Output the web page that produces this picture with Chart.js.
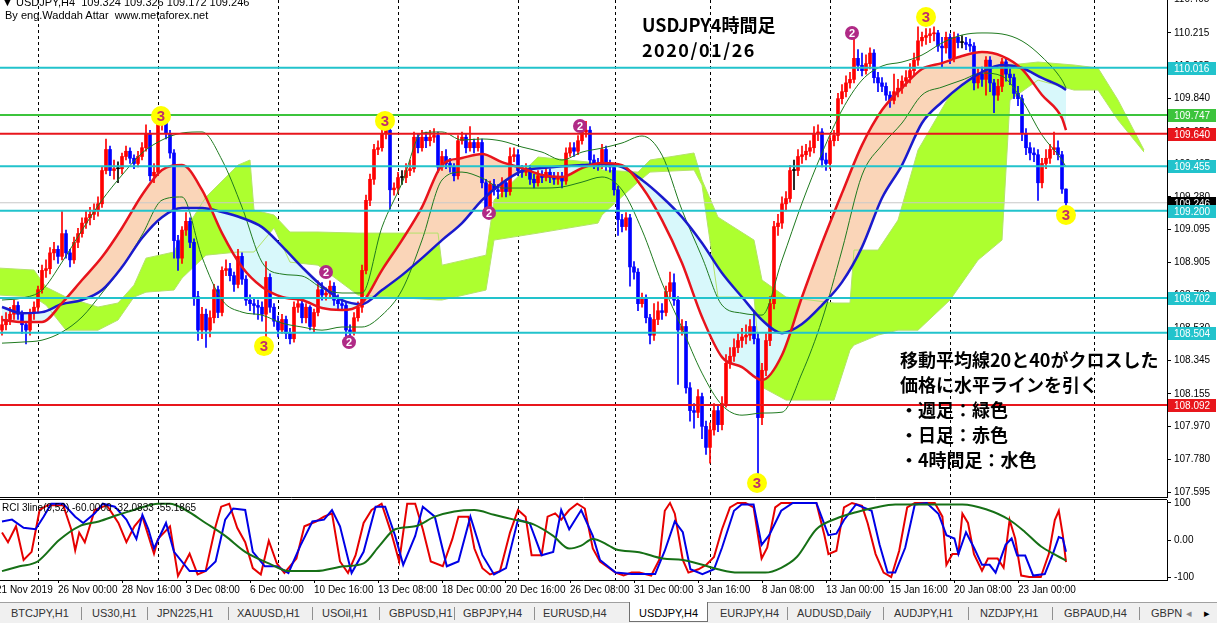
<!DOCTYPE html>
<html>
<head>
<meta charset="utf-8">
<script src="https://cdn.jsdelivr.net/npm/chart.js@4.4.1/dist/chart.umd.min.js"></script>
<style>
  body { margin: 0; width: 1217px; height: 623px; overflow: hidden; background: #fff; position: relative; font-family: "Liberation Sans", Arial, sans-serif; }
  #main { position: absolute; left: 0; top: 0; }
  #sub { position: absolute; left: 0; top: 498px; }
  .t { position: absolute; white-space: pre; color: #000; }
  .small { font-size: 11px; line-height: 12px; }
  .jp { font-family: "Noto Sans CJK JP", sans-serif; font-weight: bold; font-size: 18px; line-height: 25px; }
  #tabs { position: absolute; left: 0; top: 602px; width: 1217px; height: 21px; background: #f0f0f0; border-top: 1px solid #a0a0a0; font-size: 11px; color: #333; }
  #tabs span { position: absolute; top: 4px; }
  #tabs i { position: absolute; top: 4px; width: 1px; height: 13px; background: #909090; }
  #tabs .act { top: -1px; height: 19px; background: #fff; border: 1px solid #707070; border-top: none; }
</style>
</head>
<body>
<canvas id="main" width="1217" height="498"></canvas>
<canvas id="sub" width="1217" height="104"></canvas>

<div class="t small" style="left:2px;top:-4px">▼ USDJPY,H4  109.324 109.326 109.172 109.246</div>
<div class="t small" style="left:5px;top:9px">By eng.Waddah Attar  www.metaforex.net</div>
<div class="t jp" style="left:642px;top:12px">USDJPY4時間足</div>
<div class="t jp" style="left:642px;top:37px;letter-spacing:1.5px">2020/01/26</div>
<div class="t jp" style="left:900px;top:347px">移動平均線20と40がクロスした
価格に水平ラインを引く
・週足：緑色
・日足：赤色
・4時間足：水色</div>
<div class="t" style="left:2px;top:502px;font-size:10px;line-height:12px">RCI 3line(9,52) -60.0000 -32.0833 -55.1865</div>

<div id="tabs">
  <div class="act" style="position:absolute;left:629px;width:77px"></div>
  <span style="left:11px">BTCJPY,H1</span><i style="left:81px"></i>
  <span style="left:92px">US30,H1</span><i style="left:147px"></i>
  <span style="left:157px">JPN225,H1</span><i style="left:228px"></i>
  <span style="left:237px">XAUUSD,H1</span><i style="left:312px"></i>
  <span style="left:322px">USOil,H1</span><i style="left:379px"></i>
  <span style="left:389px">GBPUSD,H1</span><i style="left:454px"></i>
  <span style="left:463px">GBPJPY,H4</span><i style="left:534px"></i>
  <span style="left:543px">EURUSD,H4</span>
  <span style="left:639px;color:#000">USDJPY,H4</span>
  <span style="left:720px">EURJPY,H4</span><i style="left:787px"></i>
  <span style="left:797px">AUDUSD,Daily</span><i style="left:883px"></i>
  <span style="left:894px">AUDJPY,H1</span><i style="left:968px"></i>
  <span style="left:980px">NZDJPY,H1</span><i style="left:1052px"></i>
  <span style="left:1064px">GBPAUD,H4</span><i style="left:1139px"></i>
  <span style="left:1151px">GBPN</span>
  <span style="left:1186px;color:#888">◂</span>
  <span style="left:1204px;color:#000">▸</span>
</div>

<script>
// ---- candles (USDJPY H4, bar index 0 = 21 Nov 2019) ----
const firstOpen = 108.52;
const closes = [
  108.55,108.58,108.61,108.66,108.61,108.55,108.52,108.62,108.65,108.75,
  108.86,108.87,108.96,108.98,108.94,109.07,108.96,108.92,109.02,109.07,
  109.13,109.16,109.18,109.20,109.24,109.43,109.55,109.43,109.44,109.44,
  109.51,109.54,109.50,109.47,109.51,109.56,109.64,109.40,109.42,109.71,
  109.72,109.64,109.53,109.03,108.93,109.09,109.14,109.02,108.71,108.52,
  108.61,108.52,108.59,108.75,108.62,108.86,108.87,108.83,108.78,108.94,
  108.81,108.69,108.67,108.66,108.65,108.61,108.82,108.65,108.57,108.52,
  108.58,108.50,108.47,108.65,108.67,108.59,108.65,108.54,108.62,108.75,
  108.72,108.73,108.77,108.69,108.67,108.66,108.52,108.51,108.59,108.65,
  108.86,109.26,109.38,109.55,109.56,109.64,109.66,109.32,109.33,109.39,
  109.39,109.43,109.44,109.62,109.56,109.62,109.60,109.62,109.63,109.45,
  109.51,109.47,109.45,109.40,109.60,109.62,109.56,109.59,109.56,109.59,
  109.36,109.20,109.35,109.32,109.31,109.36,109.31,109.51,109.52,109.43,
  109.42,109.44,109.38,109.36,109.40,109.39,109.42,109.39,109.38,109.39,
  109.37,109.53,109.56,109.54,109.60,109.65,109.66,109.49,109.47,109.46,
  109.55,109.46,109.45,109.32,109.15,109.11,109.16,108.88,108.85,108.67,
  108.70,108.59,108.49,108.58,108.63,108.62,108.74,108.79,108.69,108.52,
  108.54,108.19,108.06,108.05,108.14,107.97,107.85,107.95,108.06,107.98,
  108.10,108.33,108.37,108.42,108.46,108.48,108.49,108.54,108.47,108.02,
  108.29,108.46,108.67,109.11,109.13,109.24,109.27,109.43,109.43,109.51,
  109.52,109.54,109.56,109.64,109.65,109.49,109.47,109.60,109.63,109.84,
  109.88,109.93,109.95,110.07,110.03,110.00,110.04,110.10,109.96,109.93,
  109.91,109.86,109.83,109.88,109.90,109.94,109.96,110.00,110.06,110.17,
  110.19,110.20,110.21,110.215,110.14,110.13,110.19,110.07,110.19,110.16,
  110.16,110.15,110.14,109.93,109.98,109.95,110.06,109.93,109.86,109.91,
  110.05,109.98,109.96,109.87,109.84,109.64,109.56,109.53,109.52,109.36,
  109.47,109.50,109.55,109.56,109.52,109.324,109.246
];
const highs = [
  108.60,108.62,108.65,108.69,108.68,108.63,108.57,108.64,108.68,108.77,
  108.89,108.92,108.99,109.02,109.00,109.20,109.09,108.98,109.05,109.10,
  109.16,109.20,109.22,109.24,109.28,109.45,109.61,109.57,109.49,109.48,
  109.53,109.57,109.56,109.52,109.54,109.59,109.69,109.66,109.47,109.76,
  109.76,109.74,109.66,109.55,109.06,109.11,109.19,109.16,109.04,108.74,
  108.65,108.64,108.63,108.78,108.77,108.88,108.92,108.90,108.85,108.98,
  108.96,108.83,108.72,108.70,108.69,108.68,108.91,108.84,108.67,108.60,
  108.61,108.60,108.53,108.68,108.70,108.69,108.67,108.66,108.64,108.80,
  108.79,108.76,108.80,108.79,108.72,108.70,108.68,108.55,108.62,108.68,
  108.89,109.29,109.41,109.58,109.60,109.67,109.72,109.68,109.36,109.42,
  109.43,109.47,109.49,109.65,109.64,109.66,109.65,109.66,109.67,109.65,
  109.54,109.55,109.50,109.47,109.63,109.65,109.64,109.68,109.61,109.62,
  109.61,109.38,109.37,109.38,109.35,109.39,109.38,109.56,109.56,109.55,
  109.46,109.47,109.46,109.41,109.43,109.43,109.45,109.44,109.42,109.42,
  109.42,109.56,109.59,109.59,109.63,109.70,109.71,109.68,109.52,109.50,
  109.58,109.57,109.49,109.47,109.34,109.18,109.19,109.18,108.91,108.87,
  108.73,108.72,108.61,108.67,108.68,108.67,108.77,108.85,108.84,108.71,
  108.58,108.57,108.22,108.10,108.18,108.16,108.00,107.99,108.10,108.09,
  108.14,108.38,108.42,108.47,108.50,108.53,108.55,108.58,108.63,108.50,
  108.33,108.50,108.71,109.14,109.18,109.28,109.31,109.46,109.49,109.55,
  109.57,109.58,109.60,109.68,109.69,109.67,109.53,109.63,109.66,109.87,
  109.92,109.97,109.99,110.18,110.12,110.10,110.09,110.13,110.12,109.99,
  109.96,109.93,109.88,109.98,109.95,109.97,110.00,110.04,110.10,110.25,
  110.22,110.24,110.24,110.25,110.23,110.19,110.22,110.21,110.22,110.21,
  110.20,110.19,110.18,110.16,110.01,110.02,110.08,110.08,109.95,109.95,
  110.07,110.07,110.01,109.98,109.91,109.86,109.67,109.59,109.56,109.55,
  109.50,109.55,109.58,109.65,109.60,109.54,109.326
];
const lows = [
  108.49,108.52,108.55,108.58,108.58,108.50,108.44,108.49,108.58,108.62,
  108.73,108.82,108.84,108.92,108.90,108.92,108.93,108.88,108.90,108.99,
  109.05,109.10,109.12,109.15,109.17,109.22,109.41,109.40,109.38,109.36,
  109.41,109.49,109.47,109.44,109.45,109.49,109.54,109.37,109.36,109.40,
  109.66,109.61,109.50,108.93,108.86,108.90,109.06,108.99,108.66,108.46,
  108.47,108.42,108.48,108.56,108.59,108.60,108.83,108.80,108.74,108.76,
  108.78,108.66,108.63,108.61,108.58,108.57,108.42,108.62,108.54,108.48,
  108.50,108.47,108.44,108.45,108.62,108.56,108.56,108.52,108.51,108.60,
  108.69,108.69,108.70,108.66,108.64,108.63,108.48,108.47,108.49,108.57,
  108.62,108.84,109.23,109.35,109.52,109.54,109.61,109.21,109.29,109.30,
  109.35,109.36,109.40,109.42,109.53,109.54,109.56,109.57,109.59,109.42,
  109.43,109.44,109.42,109.37,109.38,109.58,109.53,109.54,109.53,109.54,
  109.33,109.17,109.18,109.29,109.27,109.28,109.28,109.29,109.48,109.40,
  109.39,109.40,109.35,109.33,109.34,109.36,109.37,109.36,109.35,109.35,
  109.33,109.35,109.51,109.51,109.52,109.58,109.62,109.46,109.44,109.43,
  109.44,109.43,109.42,109.29,109.06,109.08,109.09,108.77,108.81,108.63,
  108.65,108.56,108.44,108.46,108.55,108.58,108.60,108.71,108.66,108.21,
  108.49,108.16,108.00,107.96,108.02,107.90,107.81,107.76,107.92,107.94,
  107.95,108.08,108.30,108.34,108.39,108.42,108.44,108.46,108.44,107.69,
  107.98,108.26,108.43,108.64,109.06,109.10,109.20,109.25,109.32,109.40,
  109.47,109.49,109.51,109.53,109.60,109.45,109.43,109.44,109.57,109.60,
  109.81,109.85,109.90,109.93,110.00,109.97,109.98,110.01,109.93,109.88,
  109.88,109.83,109.79,109.81,109.85,109.87,109.91,109.93,109.97,110.03,
  110.14,110.15,110.16,110.17,110.11,110.02,110.10,110.04,110.05,110.13,
  110.13,110.12,110.11,109.89,109.90,109.91,109.86,109.88,109.76,109.83,
  109.88,109.94,109.92,109.84,109.80,109.60,109.52,109.49,109.48,109.26,
  109.33,109.44,109.47,109.52,109.49,109.30,109.172
];

// ---- indicator lines, read at every 5th bar ----
const lineIdx = [0,5,10,15,20,25,30,35,40,45,50,55,60,65,70,75,80,85,90,95,100,105,110,115,120,125,130,135,140,145,150,155,160,165,170,175,180,185,190,195,200,205,210,215,220,225,230,235,240,245,250,255,260,265,266];
const ma20 = [108.577,108.565,108.565,108.674,108.805,108.936,109.102,109.290,109.433,109.461,109.319,109.073,108.879,108.765,108.708,108.691,108.645,108.634,108.674,108.862,109.033,109.221,109.461,109.501,109.524,109.478,109.444,109.404,109.393,109.444,109.473,109.461,109.336,109.147,108.902,108.594,108.365,108.308,108.234,108.377,108.708,109.016,109.301,109.575,109.775,109.901,110.009,110.043,110.083,110.106,110.083,110.009,109.861,109.729,109.661];
const ma40 = [108.651,108.616,108.622,108.668,108.691,108.748,108.879,109.045,109.164,109.216,109.216,109.193,109.159,109.107,108.999,108.879,108.771,108.691,108.668,108.748,108.833,108.930,109.033,109.130,109.261,109.358,109.427,109.444,109.455,109.461,109.467,109.450,109.376,109.279,109.164,109.016,108.845,108.708,108.577,108.502,108.554,108.662,108.793,108.993,109.273,109.461,109.701,109.821,109.918,109.992,110.032,110.015,109.958,109.906,109.889];
const bandUp = [108.691,108.702,108.748,108.907,109.090,109.261,109.404,109.530,109.604,109.644,109.650,109.490,109.221,108.907,108.839,108.828,108.759,108.731,108.731,109.107,109.358,109.644,109.650,109.604,109.610,109.598,109.564,109.535,109.490,109.535,109.558,109.587,109.627,109.518,109.204,108.936,108.662,108.616,108.605,108.919,109.244,109.530,109.775,109.946,110.026,110.049,110.089,110.158,110.203,110.215,110.209,110.169,110.078,109.946,109.901];
const bandLow = [108.445,108.451,108.462,108.508,108.594,108.731,108.879,109.062,109.261,109.279,108.936,108.691,108.622,108.605,108.559,108.537,108.519,108.537,108.537,108.605,108.748,109.033,109.376,109.421,109.387,109.330,109.330,109.330,109.336,109.364,109.393,109.319,109.090,108.788,108.531,108.274,108.091,108.034,108.046,108.051,108.274,108.577,108.976,109.404,109.575,109.701,109.861,109.906,109.946,109.986,109.969,109.832,109.632,109.490,109.450];

// ---- ichimoku cloud edges (shifted 26 bars ahead) ----
const cloudIdx = [-0.5,8,11,16,24,29,33,36,43,45,51,59,62,63,68,72,79,89,109,110,121,123,134,149,150,159,162,173,175,179,188,190,196,208,212,213,219,224,229,237,244,250,252,259,268,274,279,285.5];
const spanA = [108.873,108.862,108.765,108.708,108.651,108.674,108.776,108.930,108.965,109.062,109.279,109.461,109.490,109.204,109.176,109.079,109.079,109.073,109.073,108.890,108.947,109.261,109.507,109.473,109.433,109.421,109.490,109.530,109.376,109.164,109.033,108.805,108.708,108.674,108.674,108.976,108.976,109.147,109.547,109.861,109.975,110.032,110.032,110.049,110.032,110.015,109.832,109.547];
const spanB = [108.719,108.708,108.662,108.519,108.519,108.577,108.708,108.736,108.748,108.816,108.947,108.965,108.965,108.965,109.102,108.907,108.890,108.719,108.691,108.691,108.748,109.033,109.073,109.130,109.176,109.364,109.421,109.433,109.347,108.708,108.708,108.194,108.120,108.120,108.405,108.434,108.491,108.519,108.519,108.691,108.919,109.033,109.832,109.946,109.889,109.889,109.718,109.535];

// ---- horizontal levels and wave marks ----
const levelsCyan = [110.016, 109.455, 109.200, 108.702, 108.504];
const levelsGreen = [109.747];
const levelsRed = [109.640, 108.092];
const lastPrice = 109.246;
const priceTicks = [110.405,110.215,110.025,109.840,109.650,109.465,109.280,109.095,108.905,108.720,108.530,108.345,108.155,107.970,107.780,107.595];
const mark3 = [[39.75,109.741],[95.75,109.713],[65.5,108.428],[231,110.306],[266,109.176],[188.75,107.647]];
const mark2 = [[81,108.851],[86.75,108.451],[121.75,109.188],[144.5,109.684],[212.5,110.215]];

// ---- RCI (9 / 26 / 52) sub window ----
const rci9X = [0,1.5,3.5,5.4,7.4,9.4,11.4,15.3,17.3,18.3,19.3,20.7,23.2,26.2,29.1,31.1,33.1,35.1,38,39,42,44,46.9,48.9,50.9,53.4,54.8,56.8,58.8,60.8,62.7,64.7,66.7,68.7,70.6,73.6,75.6,78.5,80.5,82.5,84.5,86.5,88.4,90.4,92.4,94.9,97.3,99.3,101.3,103.3,105.2,107.2,110.2,112.6,114.1,116.6,118.1,120.1,122,124.5,127,129,130.9,132.4,134.9,136.4,138.3,139.8,141.8,143.8,145.7,147.7,149.5,153.4,155.4,157.4,159.3,162.3,164.3,165.7,167,168.2,170.2,171.6,174.1,176.1,178,180,182,183.9,185.9,187.9,189.9,191.3,193.3,194.8,203.6,205.6,206.6,208.6,210.5,212.5,215,216.4,218.4,220.4,222.3,224.3,226.3,228.2,233.2,235.1,236.1,237.6,239.1,240.1,241.5,243,245,246.5,248.9,250.4,251.9,253.3,254.8,256.8,259.7,261.7,263.2,264.2,265.2,266];
const rci9 = [20,-6,37,-54,-32,81,94,94,29,-28,20,-6,81,94,46,-6,37,63,-37,3,37,-97,-37,-93,-84,37,90,98,33,-6,-76,-93,-2,-63,-89,-50,37,50,63,72,-58,-89,-41,46,81,98,20,-58,98,98,29,-58,-71,3,63,63,-23,-76,-93,-84,20,81,63,-41,-41,63,72,55,81,98,85,-23,-58,-88,-96,-88,-88,-96,-54,79,100,71,-54,-88,-79,-67,-46,29,88,100,100,88,-50,-21,88,100,100,13,-38,-29,88,100,92,46,-38,-88,-100,-29,88,100,100,63,-67,-38,-38,71,46,-38,-83,-50,-50,-75,54,4,-96,-100,-100,-38,54,79,13,-60];
const rci26X = [0,2.5,5.4,8.4,10.4,12.3,15.3,18.3,20.3,23.2,25.2,28.2,31.1,33.6,35.1,36.6,38,41,43,46.9,50.9,53.4,55.8,57.8,60.8,62.7,65.7,68.7,71.6,74.6,77.6,80.5,82.5,84.5,87.4,90.4,93.4,95.8,98.3,100.3,103.3,105.2,108.2,111.2,114.1,117.1,120.1,123,126,129,131.9,134.9,137.8,139.8,141.8,144.8,147.7,149.5,153.4,157.4,163.3,165.7,168.2,170.2,172.1,175.1,178,180,183,184.9,187.9,189.9,191.8,194.8,197.7,203.6,206.6,208.6,210.5,213.5,217.4,219.4,221.4,223.3,225.8,228.2,231.2,234.1,236.1,238.1,239.1,241,243,245,246.9,248.4,250.9,252.4,253.8,255.8,257.8,260.7,262.7,264.2,265.2,266];
const rci26 = [50,55,33,29,63,98,98,63,46,72,98,90,55,3,68,29,-23,46,-32,-84,-84,-58,55,85,81,-32,-71,-71,-89,-15,50,55,81,37,-89,-32,90,90,11,-67,11,90,63,-71,-58,63,-41,-93,-76,55,46,-41,-32,81,29,81,11,-54,-88,-92,-92,-29,50,21,-79,-92,-79,-21,79,96,96,-13,13,79,100,100,13,17,54,96,79,-13,-88,-88,-21,96,100,71,13,4,-38,21,-21,-67,-67,-88,-13,4,-42,-42,-96,-92,-38,8,4,-32];
const rci52X = [0,4.4,8.9,14.3,19.3,24.2,29.1,34.1,39,42,45.9,50.9,55.8,60.8,66.7,71.6,78.5,85.5,90.4,94.4,98.3,103.3,108.2,113.1,118.1,123,128,132.9,137.8,141.8,144.8,147.7,151.7,153.4,159.3,165.2,170.2,175.1,179,184,190.8,194.8,198.7,203.6,208.6,213.5,218.4,223.3,233.2,240.1,246,251.9,255.8,259.7,263.7,266];
const rci52 = [-84,-71,-58,0,37,50,68,85,98,98,81,46,11,-32,-63,-84,-84,-71,-63,-15,29,37,63,77,81,68,55,42,11,-23,-15,3,-15,-25,-33,-50,-54,-67,-79,-88,-88,-75,-46,29,58,75,88,96,96,96,83,54,21,-17,-42,-55];

// ---- time axis ----
const gridIdx = [9,39,69,99,129,153.25,177,207,237,273];
const timeIdx = [-1.5,14,30,46,62,78,94,110,126,142,158,174,190,206,222,238,254];
const timeLabels = ['21 Nov 2019','26 Nov 00:00','28 Nov 16:00','3 Dec 08:00','6 Dec 00:00','10 Dec 16:00','13 Dec 08:00','18 Dec 00:00','20 Dec 16:00','26 Dec 08:00','31 Dec 00:00','3 Jan 16:00','8 Jan 08:00','13 Jan 00:00','15 Jan 16:00','20 Jan 08:00','23 Jan 00:00'];

const X_MIN = -0.5, X_MAX = 291.25;
const UP = '#ff0000', DOWN = '#0000ff';
const opens = closes.map((c, i) => i === 0 ? firstOpen : closes[i - 1]);
opens[opens.length - 1] = 109.324;
const candleColor = closes.map((c, i) => c > opens[i] ? UP : (c < opens[i] ? DOWN : '#000'));

const pts = (xs, ys) => xs.map((x, i) => ({x: x, y: ys[i]}));
const hline = (v, color, w) => ({type: 'line', data: [{x: X_MIN, y: v}, {x: X_MAX, y: v}], borderColor: color, borderWidth: w, pointRadius: 0, order: 1});

const framePlugin = {
  id: 'frame',
  afterDraw(chart) {
    const {ctx, chartArea: a} = chart;
    ctx.save();
    ctx.strokeStyle = '#000';
    ctx.lineWidth = 1;
    ctx.beginPath();
    ctx.moveTo(a.left, Math.round(a.bottom) + 0.5); ctx.lineTo(a.right, Math.round(a.bottom) + 0.5);
    if (chart.canvas.id === 'sub') { ctx.moveTo(a.left, Math.round(a.top) - 0.5); ctx.lineTo(a.right, Math.round(a.top) - 0.5); }
    ctx.stroke();
    ctx.restore();
  }
};

const markPlugin = {
  id: 'marks',
  afterDatasetsDraw(chart) {
    const ctx = chart.ctx;
    chart.data.datasets.forEach((ds, di) => {
      if (!ds.digit) return;
      chart.getDatasetMeta(di).data.forEach(p => {
        ctx.save();
        ctx.font = 'bold ' + ds.digitSize + 'px "Liberation Sans"';
        ctx.fillStyle = ds.digitColor;
        ctx.textAlign = 'center';
        ctx.textBaseline = 'middle';
        ctx.fillText(ds.digit, p.x, p.y + 1);
        ctx.restore();
      });
    });
  }
};

const boxPlugin = {
  id: 'boxes',
  afterDraw(chart) {
    const ctx = chart.ctx, y = chart.scales.y, x0 = chart.chartArea.right + 1;
    const boxes = [[lastPrice, '#000']];
    levelsCyan.forEach(v => boxes.push([v, '#22c3cc']));
    levelsGreen.forEach(v => boxes.push([v, '#3cc43c']));
    levelsRed.forEach(v => boxes.push([v, '#e8161c']));
    ctx.save();
    ctx.font = '10px "Liberation Sans"';
    ctx.textBaseline = 'middle';
    boxes.forEach(([v, c]) => {
      const py = Math.round(y.getPixelForValue(v));
      ctx.fillStyle = c;
      ctx.fillRect(x0, py - 6, 48, 13);
      ctx.fillStyle = '#fff';
      ctx.fillText(v.toFixed(3), x0 + 6, py + 1);
    });
    ctx.restore();
  }
};

new Chart(document.getElementById('main'), {
  type: 'bar',
  data: {
    datasets: [
      {type: 'bar', data: closes.map((c, i) => ({x: i, y: [lows[i], highs[i]]})), backgroundColor: candleColor, barThickness: 1, grouped: false, order: 5},
      {type: 'bar', data: closes.map((c, i) => ({x: i, y: [opens[i], c]})), backgroundColor: candleColor, barThickness: 3, minBarLength: 1, grouped: false, order: 4},
      {type: 'line', data: pts(cloudIdx, spanA), borderColor: '#b4e36a', borderWidth: 1, pointRadius: 0, fill: {target: 3, above: '#adff2f', below: '#adff2f'}, order: 9},
      {type: 'line', data: pts(cloudIdx, spanB), borderColor: '#b4e36a', borderWidth: 1, pointRadius: 0, order: 9},
      {type: 'line', data: pts(lineIdx, bandUp), borderColor: '#1f7a1f', borderWidth: 1, pointRadius: 0, cubicInterpolationMode: 'monotone', order: 3},
      {type: 'line', data: pts(lineIdx, bandLow), borderColor: '#1f7a1f', borderWidth: 1, pointRadius: 0, cubicInterpolationMode: 'monotone', order: 3},
      {type: 'line', data: pts(lineIdx, ma20), borderColor: '#e8141c', borderWidth: 2.5, pointRadius: 0, cubicInterpolationMode: 'monotone', fill: {target: 7, above: '#fad5b8', below: '#d8f8fb'}, order: 2},
      {type: 'line', data: pts(lineIdx, ma40), borderColor: '#1a1acd', borderWidth: 2.5, pointRadius: 0, cubicInterpolationMode: 'monotone', order: 2},
      Object.assign(hline(lastPrice, '#c8c8c8', 1), {order: 6}),
      ...levelsCyan.map(v => hline(v, '#22c3cc', 2)),
      ...levelsGreen.map(v => hline(v, '#3cc43c', 2)),
      ...levelsRed.map(v => hline(v, '#e8161c', 2)),
      {type: 'line', showLine: false, data: mark3.map(m => ({x: m[0], y: m[1]})), pointRadius: 10, pointBackgroundColor: '#ffff00', pointBorderWidth: 0, order: 0, digit: '3', digitSize: 15, digitColor: '#c0306a'},
      {type: 'line', showLine: false, data: mark2.map(m => ({x: m[0], y: m[1]})), pointRadius: 7, pointBackgroundColor: '#b02a86', pointBorderWidth: 0, order: 0, digit: '2', digitSize: 11, digitColor: '#fff'}
    ]
  },
  options: {
    responsive: false, animation: false, events: [], devicePixelRatio: 1,
    layout: {autoPadding: false, padding: {top: 0, bottom: 1, left: 0, right: 0}},
    plugins: {legend: {display: false}, tooltip: {enabled: false}, filler: {drawTime: 'beforeDatasetsDraw'}},
    scales: {
      x: {
        type: 'linear', min: X_MIN, max: X_MAX, offset: false,
        afterBuildTicks: s => { s.ticks = gridIdx.map(v => ({value: v})); },
        afterFit: s => { s.height = 0; s.paddingLeft = 0; s.paddingRight = 0; },
        ticks: {display: false},
        grid: {color: '#000', lineWidth: 1, drawTicks: false, offset: false},
        border: {display: false, dash: [3, 3]}
      },
      y: {
        position: 'right', min: 107.567, max: 110.403,
        afterBuildTicks: s => { s.ticks = priceTicks.map(v => ({value: v})); },
        afterFit: s => { s.width = 50; s.paddingTop = 0; s.paddingBottom = 0; },
        ticks: {callback: v => v.toFixed(3), font: {family: 'Liberation Sans', size: 10}, color: '#000', padding: 3},
        grid: {drawOnChartArea: false, tickLength: 4, color: '#000'},
        border: {display: true, color: '#000'}
      }
    }
  },
  plugins: [framePlugin, markPlugin, boxPlugin]
});

new Chart(document.getElementById('sub'), {
  type: 'line',
  data: {
    datasets: [
      {data: pts(rci52X, rci52), borderColor: '#167016', borderWidth: 2, pointRadius: 0, cubicInterpolationMode: 'monotone'},
      {data: pts(rci26X, rci26), borderColor: '#0000e6', borderWidth: 2, pointRadius: 0},
      {data: pts(rci9X, rci9), borderColor: '#e60000', borderWidth: 2, pointRadius: 0}
    ]
  },
  options: {
    responsive: false, animation: false, events: [], devicePixelRatio: 1,
    layout: {autoPadding: false, padding: {top: 2, bottom: 0, left: 0, right: 0}},
    plugins: {legend: {display: false}, tooltip: {enabled: false}},
    scales: {
      x: {
        type: 'linear', min: X_MIN, max: X_MAX, position: 'bottom', offset: false,
        afterBuildTicks: s => { s.ticks = timeIdx.map(v => ({value: v})); },
        afterFit: s => { s.height = 22; s.paddingLeft = 0; s.paddingRight = 0; },
        ticks: {callback: (v, i) => timeLabels[i], align: 'start', autoSkip: false, maxRotation: 0, font: {family: 'Liberation Sans', size: 10}, color: '#000', padding: 1},
        grid: {drawOnChartArea: false, tickLength: 3, color: '#000'},
        border: {display: false}
      },
      xg: {
        type: 'linear', min: X_MIN, max: X_MAX, position: 'top', offset: false,
        afterBuildTicks: s => { s.ticks = gridIdx.map(v => ({value: v})); },
        afterFit: s => { s.height = 0; s.paddingLeft = 0; s.paddingRight = 0; },
        ticks: {display: false},
        grid: {color: '#000', lineWidth: 1, drawTicks: false},
        border: {display: false, dash: [3, 3]}
      },
      y: {
        position: 'right', min: -108, max: 108,
        afterBuildTicks: s => { s.ticks = [100, 0, -100].map(v => ({value: v})); },
        afterFit: s => { s.width = 50; s.paddingTop = 0; s.paddingBottom = 0; },
        ticks: {callback: v => v === 0 ? '0.00' : String(v), font: {family: 'Liberation Sans', size: 10}, color: '#000', padding: 3},
        grid: {drawOnChartArea: false, tickLength: 4, color: '#000'},
        border: {display: true, color: '#000'}
      }
    }
  },
  plugins: [framePlugin]
});
</script>
</body>
</html>
